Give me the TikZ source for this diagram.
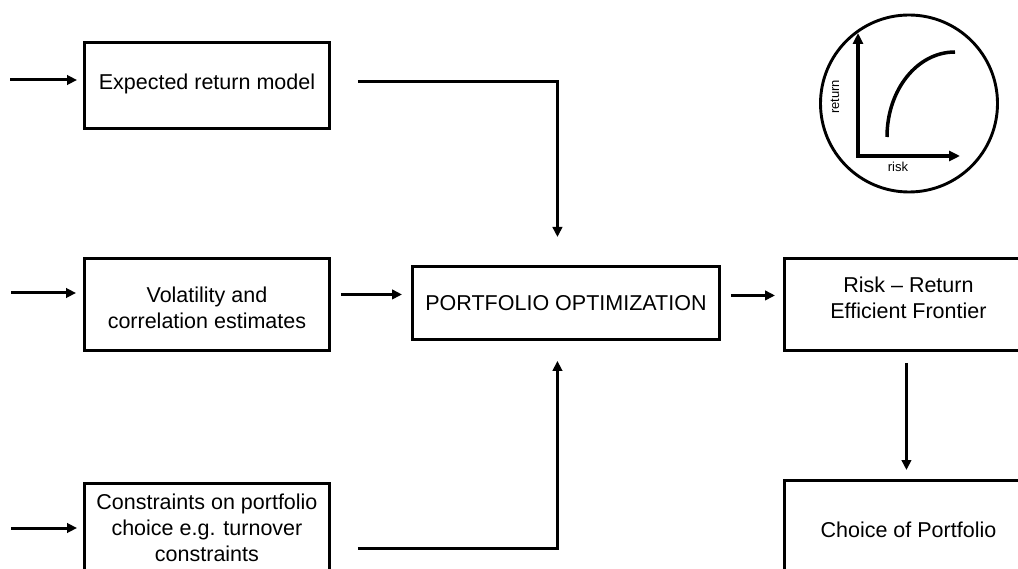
\documentclass[tikz,border=0pt]{standalone}
\usepackage{fontspec}
\setmainfont{Liberation Sans}
\usetikzlibrary{arrows.meta,calc}
\newcommand{\shtext}[2]{\raisebox{#1}[\height][\depth]{\begin{tabular}{@{}c@{}}#2\end{tabular}}}
\tikzset{
 box/.style={draw, line width=2.9pt, rectangle, align=center, inner sep=0pt,
   font=\fontsize{21.5}{26}\selectfont, anchor=north west},
 arr/.style={line width=3pt, -{Triangle[length=10pt,width=9.5pt]}},
 axis/.style={line width=3.5pt, {Triangle[length=11pt,width=10pt]}-{Triangle[length=11pt,width=10pt]}},
 curve/.style={line width=3.5pt},
 small/.style={font=\fontsize{13}{15}\selectfont, inner sep=0pt}
}
\begin{document}
\begin{tikzpicture}[x=1pt,y=-1pt]
\useasboundingbox (0,0) rectangle (1018,569);
\clip (0,0) rectangle (1018,569);
% boxes
\node[box, minimum width=245pt, minimum height=86pt] (exp) at (83,41) {\shtext{1.5pt}{Expected return model}};
\node[box, minimum width=245pt, minimum height=92pt] (vol) at (83,257) {\shtext{-6pt}{Volatility and\\correlation estimates}};
\node[box, minimum width=245pt, minimum height=90pt] (cons) at (83,482) {\shtext{-1.5pt}{Constraints on portfolio\\choice e.g. turnover\\constraints}};
\node[box, minimum width=307pt, minimum height=73pt] (po) at (411,265) {PORTFOLIO OPTIMIZATION};
\node[box, minimum width=248pt, minimum height=92pt] (rr) at (783,257) {\shtext{4pt}{Risk -- Return\\Efficient Frontier}};
\node[box, minimum width=248pt, minimum height=98pt] (ch) at (783,479) {Choice of Portfolio};
% incoming arrows
\coordinate (in1) at (10,80);
\coordinate (in2) at (11,293);
\coordinate (in3) at (11,528);
\draw[arr, shorten >=6pt] (in1) -- (in1 -| exp.west);
\draw[arr, shorten >=7pt] (in2) -- (in2 -| vol.west);
\draw[arr, shorten >=6pt] (in3) -- (in3 -| cons.west);
% connectors to optimization
\draw[arr] ($(exp.east)+(27,-4)$) -| ($(po.north)+(-8.5,-28)$);
\draw[arr] ($(vol.east)+(10,-10)$) -- ($(po.west |- vol.east)+(-9,-10)$);
\draw[arr] ($(cons.east)+(27,20)$) -| ($(po.south)+(-8.5,20)$);
\draw[arr] ($(po.east)+(10,-7.5)$) -- ($(rr.west |- po.east)+(-8,-7.5)$);
\draw[arr] ($(rr.south)+(-2,11)$) -- ($(ch.north)+(-2,-9)$);
% risk-return sketch
\node[draw, circle, line width=2.9pt, minimum size=177pt, inner sep=0pt] (circ) at (909,103.5) {};
\coordinate (o) at (858,156);
\draw[axis] (858,33) -- (o) -- (960,156);
\draw[curve] (887,137) .. controls (887,90) and (917,52) .. (955,52);
\node[small, rotate=90] (ret) at (835,97) {return};
\node[small] (risk) at (898,167) {risk};
\end{tikzpicture}
\end{document}
